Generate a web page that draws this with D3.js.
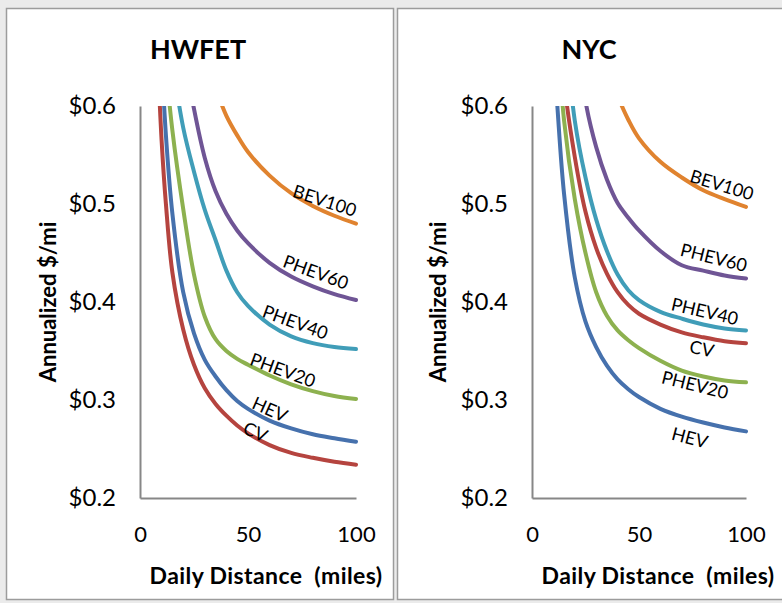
<!DOCTYPE html>
<html>
<head>
<meta charset="utf-8">
<script src="https://cdn.jsdelivr.net/npm/d3@7"></script>
<style>
  html, body { margin: 0; padding: 0; background: #ebebeb; }
  svg { display: block; }
</style>
</head>
<body>
<svg id="chart" width="782" height="603"></svg>
<script>
// daily distance (miles) where each curve is sampled
const distance = [8, 10, 12, 15, 20, 25, 30, 35, 40, 45, 50, 60, 70, 80, 90, 100];
const seriesNames = ["CV", "HEV", "PHEV20", "PHEV40", "PHEV60", "BEV100"];
const yTicks = [0.2, 0.3, 0.4, 0.5, 0.6];
const xTicks = [0, 50, 100];

// annualized $/mi, HWFET cycle (null = far above the top of the chart)
const hwfetCV     = [0.66, 0.565, 0.50, 0.43, 0.372, 0.336, 0.312, 0.296, 0.284, 0.274, 0.266, 0.254, 0.246, 0.241, 0.237, 0.234];
const hwfetHEV    = [null, 0.65, 0.57, 0.49, 0.41, 0.368, 0.341, 0.324, 0.310, 0.299, 0.291, 0.279, 0.271, 0.265, 0.261, 0.2575];
const hwfetPHEV20 = [null, null, 0.64, 0.575, 0.495, 0.428, 0.385, 0.362, 0.350, 0.342, 0.336, 0.325, 0.316, 0.309, 0.304, 0.301];
const hwfetPHEV40 = [null, null, null, 0.645, 0.578, 0.533, 0.494, 0.463, 0.432, 0.410, 0.396, 0.377, 0.365, 0.358, 0.354, 0.352];
const hwfetPHEV60 = [null, null, null, null, 0.66, 0.597, 0.547, 0.513, 0.490, 0.473, 0.460, 0.440, 0.426, 0.416, 0.408, 0.402];
const hwfetBEV100 = [null, null, null, null, null, null, null, 0.618, 0.590, 0.570, 0.553, 0.529, 0.511, 0.498, 0.488, 0.480];

// annualized $/mi, NYC cycle
const nycCV     = [null, null, 0.72, 0.625, 0.548, 0.492, 0.455, 0.429, 0.410, 0.397, 0.388, 0.377, 0.369, 0.364, 0.360, 0.358];
const nycHEV    = [null, 0.665, 0.595, 0.51, 0.425, 0.380, 0.354, 0.335, 0.321, 0.311, 0.303, 0.291, 0.283, 0.277, 0.272, 0.268];
const nycPHEV20 = [null, null, 0.67, 0.585, 0.505, 0.450, 0.410, 0.386, 0.371, 0.361, 0.353, 0.340, 0.330, 0.324, 0.320, 0.318];
const nycPHEV40 = [null, null, null, 0.69, 0.585, 0.527, 0.484, 0.452, 0.428, 0.412, 0.402, 0.390, 0.383, 0.377, 0.373, 0.371];
const nycPHEV60 = [null, null, null, null, 0.70, 0.605, 0.558, 0.525, 0.501, 0.486, 0.473, 0.452, 0.4375, 0.432, 0.427, 0.424];
const nycBEV100 = [null, null, null, null, null, null, null, null, 0.610, 0.586, 0.567, 0.543, 0.527, 0.514, 0.505, 0.497];

const colors = {
  CV: "#b5443f", HEV: "#4671ad", PHEV20: "#8db14f",
  PHEV40: "#409db8", PHEV60: "#6f5595", BEV100: "#e0832f"
};

const FONT = "Lato, 'Open Sans', sans-serif";
const svg = d3.select("#chart");

const panels = [
  {
    title: "HWFET", titleX: 198, frame: [6.5, 8.5, 387, 591], left: 140, right: 356,
    series: [hwfetCV, hwfetHEV, hwfetPHEV20, hwfetPHEV40, hwfetPHEV60, hwfetBEV100],
    // label anchor [miles, $/mi] and rotation in degrees
    labels: [[53.5, 0.268, 24], [60.3, 0.291, 24], [66.2, 0.331, 20], [72, 0.380, 20], [81.5, 0.431, 20], [85.6, 0.504, 18]],
    xTitle: 266, yTitle: 47
  },
  {
    title: "NYC", titleX: 589, frame: [397.5, 8.5, 400, 591], left: 532, right: 746,
    series: [nycCV, nycHEV, nycPHEV20, nycPHEV40, nycPHEV60, nycBEV100],
    labels: [[79.4, 0.353, 12], [73.8, 0.262, 15], [76.2, 0.316, 14], [80.8, 0.391, 13], [85, 0.446, 14], [88.8, 0.520, 17]],
    xTitle: 658, yTitle: 437
  }
];

panels.forEach((p, pi) => {
  const [fx, fy, fw, fh] = p.frame;
  svg.append("rect")
    .attr("x", fx).attr("y", fy).attr("width", fw).attr("height", fh)
    .attr("fill", "#fff").attr("stroke", "#9c9c9c").attr("stroke-width", 1.5);

  const x = d3.scaleLinear().domain([0, 100]).range([p.left, p.right]);
  const y = d3.scaleLinear().domain([0.2, 0.6]).range([498, 106]);

  svg.append("text")
    .attr("x", p.titleX).attr("y", 48)
    .attr("text-anchor", "middle").attr("dominant-baseline", "central")
    .attr("font-family", FONT).attr("font-weight", "bold").attr("font-size", 27)
    .text(p.title);

  // y axis
  svg.append("g")
    .attr("transform", `translate(${x(0)},0)`)
    .call(d3.axisLeft(y).tickValues(yTicks).tickSize(0).tickPadding(24)
      .tickFormat(d => "$" + d.toFixed(1)))
    .attr("font-family", FONT).attr("font-size", 24)
    .call(g => g.select(".domain").attr("stroke", "#878787").attr("stroke-width", 2))
    .call(g => g.selectAll("text").attr("fill", "#000"));

  // x axis
  svg.append("g")
    .attr("transform", `translate(0,${y(0.2)})`)
    .call(d3.axisBottom(x).tickValues(xTicks).tickSize(0).tickPadding(28))
    .attr("font-family", FONT).attr("font-size", 22)
    .call(g => g.select(".domain").attr("stroke", "#878787").attr("stroke-width", 2))
    .call(g => g.selectAll("text").attr("fill", "#000"));

  const clipId = "clip" + pi;
  svg.append("clipPath").attr("id", clipId)
    .append("rect")
    .attr("x", x(0)).attr("y", y(0.6))
    .attr("width", x(100) - x(0) + 10).attr("height", y(0.2) - y(0.6));

  const line = d3.line()
    .defined(d => d[1] != null)
    .x(d => x(d[0]))
    .y(d => y(d[1]))
    .curve(d3.curveCatmullRom.alpha(0.5));

  const g = svg.append("g").attr("clip-path", `url(#${clipId})`);
  p.series.forEach((vals, i) => {
    g.append("path")
      .datum(distance.map((d, k) => [d, vals[k]]))
      .attr("fill", "none")
      .attr("stroke", colors[seriesNames[i]])
      .attr("stroke-width", 4)
      .attr("stroke-linecap", "round")
      .attr("stroke-linejoin", "round")
      .attr("d", line);
  });

  p.labels.forEach(([lx, ly, rot], i) => {
    svg.append("text")
      .attr("transform", `translate(${x(lx)},${y(ly)}) rotate(${rot})`)
      .attr("text-anchor", "middle").attr("dominant-baseline", "central")
      .attr("font-family", FONT).attr("font-size", 18)
      .text(seriesNames[i]);
  });

  svg.append("text")
    .attr("x", p.xTitle).attr("y", 575)
    .attr("text-anchor", "middle").attr("dominant-baseline", "central")
    .attr("font-family", FONT).attr("font-weight", "bold").attr("font-size", 23)
    .attr("letter-spacing", 0.4)
    .style("white-space", "pre")
    .text("Daily Distance  (miles)");

  svg.append("text")
    .attr("transform", `translate(${p.yTitle},302) rotate(-90)`)
    .attr("text-anchor", "middle").attr("dominant-baseline", "central")
    .attr("font-family", FONT).attr("font-weight", "bold").attr("font-size", 22)
    .text("Annualized $/mi");
});
</script>
</body>
</html>
